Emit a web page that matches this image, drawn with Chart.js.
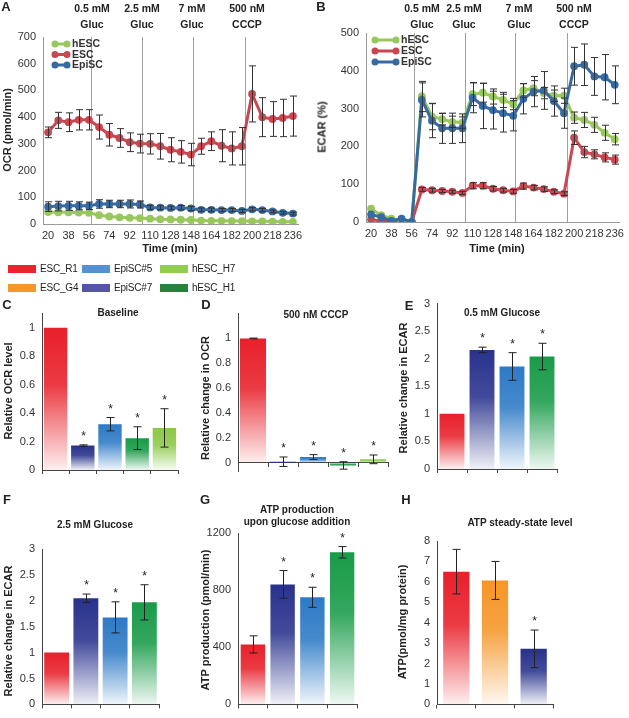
<!DOCTYPE html>
<html>
<head>
<meta charset="utf-8">
<script src="https://cdn.jsdelivr.net/npm/chart.js@4.4.1/dist/chart.umd.min.js"></script>
<style>
  body { margin: 0; background: #fff; width: 629px; height: 718px; position: relative; overflow: hidden;
         font-family: "Liberation Sans", Arial, sans-serif; color: #222; }
  canvas { position: absolute; }
  .t { position: absolute; transform: translate(-50%, -50%); white-space: nowrap; font-weight: bold;
       font-size: 10px; line-height: 1; }
  .L { font-size: 13px; }
  .inj { font-size: 10.5px; }
  .yt { font-size: 11px; transform: translate(-50%, -50%) rotate(-90deg); }
  .xt { font-size: 11px; }
  .sw { position: absolute; width: 28px; height: 8px; }
  .lt { position: absolute; transform: translateY(-50%); font-size: 10px; line-height: 1; white-space: nowrap;
        letter-spacing: -0.2px; font-family: "Liberation Sans Narrow", "Liberation Sans", Arial, sans-serif; }
</style>
</head>
<body>

<!-- panel letters -->
<div class="t L" style="left:6px;top:6px">A</div>
<div class="t L" style="left:321px;top:6px">B</div>
<div class="t L" style="left:7px;top:304px">C</div>
<div class="t L" style="left:206px;top:304px">D</div>
<div class="t L" style="left:409px;top:305px">E</div>
<div class="t L" style="left:7px;top:499px">F</div>
<div class="t L" style="left:205px;top:499px">G</div>
<div class="t L" style="left:406px;top:499px">H</div>

<!-- injection labels -->
<div class="t inj" style="left:92px;top:8px">0.5 mM</div><div class="t inj" style="left:92px;top:24px">Gluc</div>
<div class="t inj" style="left:142px;top:8px">2.5 mM</div><div class="t inj" style="left:142px;top:24px">Gluc</div>
<div class="t inj" style="left:192px;top:8px">7 mM</div><div class="t inj" style="left:192px;top:24px">Gluc</div>
<div class="t inj" style="left:247px;top:8px">500 nM</div><div class="t inj" style="left:247px;top:24px">CCCP</div>
<div class="t inj" style="left:422px;top:8px">0.5 mM</div><div class="t inj" style="left:422px;top:24px">Gluc</div>
<div class="t inj" style="left:464px;top:8px">2.5 mM</div><div class="t inj" style="left:464px;top:24px">Gluc</div>
<div class="t inj" style="left:519px;top:8px">7 mM</div><div class="t inj" style="left:519px;top:24px">Gluc</div>
<div class="t inj" style="left:574px;top:8px">500 nM</div><div class="t inj" style="left:574px;top:24px">CCCP</div>

<!-- axis titles -->
<div class="t yt" style="left:7px;top:130px">OCR (pmol/min)</div>
<div class="t yt" style="left:322px;top:127px">ECAR (%)</div>
<div class="t xt" style="left:170px;top:248px">Time (min)</div>
<div class="t xt" style="left:497px;top:248px">Time (min)</div>
<div class="t yt" style="left:8px;top:391px">Relative OCR level</div>
<div class="t yt" style="left:205px;top:398px">Relative change in OCR</div>
<div class="t yt" style="left:403px;top:388px">Relative change in ECAR</div>
<div class="t yt" style="left:8px;top:631px">Relative change in ECAR</div>
<div class="t yt" style="left:205px;top:620px">ATP production (pmol/min)</div>
<div class="t yt" style="left:402px;top:622px">ATP(pmol/mg protein)</div>

<!-- panel titles -->
<div class="t" style="left:118px;top:313px">Baseline</div>
<div class="t" style="left:316px;top:315px">500 nM CCCP</div>
<div class="t" style="left:502px;top:313px">0.5 mM Glucose</div>
<div class="t" style="left:95px;top:525px">2.5 mM Glucose</div>
<div class="t" style="left:297px;top:510px">ATP production</div>
<div class="t" style="left:297px;top:522px">upon glucose addition</div>
<div class="t" style="left:520px;top:523px">ATP steady-state level</div>

<!-- cell line legend -->
<div class="sw" style="left:8px;top:265px;background:rgb(235,35,45)"></div><div class="lt" style="left:40px;top:269px">ESC_R1</div>
<div class="sw" style="left:82px;top:265px;background:rgb(85,145,210)"></div><div class="lt" style="left:114px;top:269px">EpiSC#5</div>
<div class="sw" style="left:160px;top:265px;background:rgb(145,205,80)"></div><div class="lt" style="left:192px;top:269px">hESC_H7</div>
<div class="sw" style="left:8px;top:284px;background:rgb(245,150,40)"></div><div class="lt" style="left:40px;top:288px">ESC_G4</div>
<div class="sw" style="left:82px;top:284px;background:rgb(85,85,165)"></div><div class="lt" style="left:114px;top:288px">EpiSC#7</div>
<div class="sw" style="left:160px;top:284px;background:rgb(40,130,60)"></div><div class="lt" style="left:192px;top:288px">hESC_H1</div>

<script>
Chart.defaults.font.family = '"Liberation Sans", Arial, sans-serif';

// time axis (every other label shown)
const timeLabels = ['20','29','38','47','56','65','74','83','92','101','110','119','128',
                    '137','148','155','164','173','182','191','200','209','218','227','236'];
// injections fall between measurements (in point index units)
const injectAt = [4.2, 9.25, 14.2, 19.3];

// A - OCR
const ocrHesc = [45,44,44,43,42,33,28,25,23,22,20,18,17,16,15,13,12,12,11,11,10,10,9,8,8];
const ocrEsc = [343,388,381,390,390,363,334,322,306,301,300,291,278,270,260,291,310,293,283,291,487,400,393,397,404];
const ocrEscErr = [20,30,35,38,38,45,42,35,35,35,38,48,45,42,42,30,35,60,62,70,105,73,65,70,75];
const ocrEpi = [65,67,68,68,68,75,75,75,75,73,62,61,60,61,58,53,53,52,52,49,55,52,47,42,39];
const ocrEpiErr = [18,18,17,15,14,16,14,14,15,13,8,7,7,8,8,7,7,6,6,6,6,6,5,5,5];

// B - ECAR
const ecarHesc = [35,18,9,4,0,332,279,272,265,263,338,342,332,323,312,348,354,341,334,334,276,270,257,236,219];
const ecarHescErr = [0,0,0,0,0,40,35,15,15,15,30,25,20,20,15,18,20,15,15,20,15,20,20,20,15];
const ecarEsc = [7,2,2,2,0,86,84,82,80,77,96,96,88,84,81,95,91,87,80,75,223,185,179,171,165];
const ecarEscErr = [0,0,0,0,0,5,5,4,4,4,8,8,6,5,5,8,6,6,5,5,18,15,12,12,12];
const ecarEpi = [20,13,3,9,0,323,268,248,248,248,329,307,296,288,281,326,345,348,320,288,412,416,385,383,363];
const ecarEpiErr = [0,0,0,0,0,45,45,40,40,38,40,60,50,50,40,40,40,50,40,40,50,55,50,60,50];

// C - baseline OCR
const cCats = ['ESC_R1','EpiSC#7','EpiSC#5','hESC_H1','hESC_H7'];
const cVals = [1, 0.172, 0.322, 0.224, 0.296];
const cErr  = [0, 0.005, 0.047, 0.08, 0.135];
const cSig  = [false, true, true, true, true];
// D - CCCP
const dVals = [1, 0.008, 0.045, -0.022, 0.027];
const dErr  = [0.003, 0.038, 0.02, 0.03, 0.035];
const dSig  = [false, true, true, true, true];
const relTicks = [0, 0.2, 0.4, 0.6, 0.8, 1];
// E / F - glucose ECAR
const ecCats = ['ESC_R1','EpiSC#7','EpiSC#5','hESC_H1'];
const eVals = [1, 2.16, 1.86, 2.04];
const eErr  = [0, 0.05, 0.25, 0.24];
const fVals = [1, 2.05, 1.68, 1.97];
const fErr  = [0, 0.08, 0.3, 0.34];
const glucSig = [false, true, true, true];
const ecarTicks = [0, 0.5, 1, 1.5, 2, 2.5, 3];
// G - ATP production
const gVals = [420, 840, 750, 1065];
const gErr  = [60, 97, 70, 40];
const gTicks = [0, 400, 800, 1200];
// H - ATP steady state
const hCats = ['ESC_R1','ESC_G4','EpiSC#7'];
const hVals = [6.5, 6.07, 2.72];
const hErr  = [1.09, 0.93, 0.92];
const hSig  = [false, false, true];
const hTicks = [0,1,2,3,4,5,6,7,8];

const lineColors = { hESC: 'rgb(152,200,92)', ESC: 'rgb(200,72,82)', EpiSC: 'rgb(56,106,162)' };
const barColors = {
  'ESC_R1': '232,32,42', 'ESC_G4': '245,150,40', 'EpiSC#7': '40,50,140',
  'EpiSC#5': '45,122,198', 'hESC_H1': '25,155,72', 'hESC_H7': '140,200,70'
};

// fixed chart area inside each canvas
function frame(box, plot, xh) {
  return {
    padding: { left: 0, top: plot.t - box.y, right: box.x + box.w - plot.r, bottom: box.y + box.h - plot.b - xh },
    yw: plot.l - box.x, xh: xh
  };
}

function makeCanvas(box) {
  const c = document.createElement('canvas');
  c.width = box.w; c.height = box.h;
  c.style.left = box.x + 'px'; c.style.top = box.y + 'px';
  c.style.width = box.w + 'px'; c.style.height = box.h + 'px';
  document.body.insertBefore(c, document.body.firstChild);
  return c;
}

// error bars + significance stars
const errorBars = {
  id: 'errorBars',
  afterDatasetsDraw(chart, args, opts) {
    const ctx = chart.ctx, ys = chart.scales.y, cap = opts.cap || 4;
    chart.data.datasets.forEach((ds, i) => {
      if (!ds.err) return;
      chart.getDatasetMeta(i).data.forEach((el, j) => {
        const v = ds.data[j], e = ds.err[j];
        const y1 = ys.getPixelForValue(v + e), y2 = ys.getPixelForValue(v - e);
        const x = Math.round(el.x) + 0.5;
        ctx.save();
        ctx.strokeStyle = opts.color || '#222';
        ctx.lineWidth = 1;
        if (e) {
          ctx.beginPath();
          ctx.moveTo(x, y1); ctx.lineTo(x, y2);
          ctx.moveTo(x - cap, y1); ctx.lineTo(x + cap, y1);
          ctx.moveTo(x - cap, y2); ctx.lineTo(x + cap, y2);
          ctx.stroke();
        }
        if (ds.sig && ds.sig[j]) {
          ctx.fillStyle = '#222';
          ctx.font = '12px "Liberation Sans"';
          ctx.textAlign = 'center';
          ctx.fillText('*', x, Math.min(y1, ys.getPixelForValue(Math.max(v, 0))) - 5);
        }
        ctx.restore();
      });
    });
  }
};

// vertical lines marking injections
const injectionLines = {
  id: 'injectionLines',
  beforeDatasetsDraw(chart, args, opts) {
    const { ctx, chartArea: a, scales: { x } } = chart;
    const x0 = x.getPixelForValue(0), step = x.getPixelForValue(1) - x0;
    ctx.save();
    ctx.strokeStyle = '#a0a0a0';
    ctx.lineWidth = 1;
    opts.at.forEach(f => {
      const px = Math.round(x0 + f * step) + 0.5;
      ctx.beginPath(); ctx.moveTo(px, a.top); ctx.lineTo(px, a.bottom); ctx.stroke();
    });
    ctx.restore();
  }
};

// legend inside the plot
const lineLegend = {
  id: 'lineLegend',
  afterDraw(chart, args, o) {
    const ctx = chart.ctx;
    chart.data.datasets.forEach((ds, i) => {
      const y = o.y + i * o.dy;
      ctx.save();
      ctx.strokeStyle = ds.borderColor; ctx.fillStyle = ds.borderColor; ctx.lineWidth = 3;
      ctx.beginPath(); ctx.moveTo(o.x, y); ctx.lineTo(o.x + o.len, y); ctx.stroke();
      [o.x + 2, o.x + o.len - 2].forEach(px => { ctx.beginPath(); ctx.arc(px, y, 3.5, 0, Math.PI * 2); ctx.fill(); });
      ctx.fillStyle = '#333';
      ctx.font = 'bold 10.5px "Liberation Sans"';
      ctx.textBaseline = 'middle';
      ctx.fillText(ds.label, o.x + o.len + 3, y + 0.5);
      ctx.restore();
    });
  }
};

function lineSet(label, data, err, order) {
  return {
    label, data, err, order,
    borderColor: lineColors[label], backgroundColor: lineColors[label],
    borderWidth: 3, pointRadius: 3.9, pointBorderWidth: 0, tension: 0
  };
}

function linePanel(box, plot, sets, yMax, step, legend) {
  const f = frame(box, plot, 20);
  new Chart(makeCanvas(box), {
    type: 'line',
    data: { labels: timeLabels, datasets: sets },
    options: {
      responsive: false, animation: false, events: [],
      layout: { padding: f.padding },
      plugins: {
        legend: { display: false }, tooltip: { enabled: false },
        injectionLines: { at: injectAt },
        errorBars: { cap: 3.5, color: '#333' },
        lineLegend: legend
      },
      scales: {
        x: {
          type: 'category', offset: true,
          grid: { display: false, drawTicks: false }, border: { color: '#999' },
          ticks: {
            autoSkip: false, maxRotation: 0, padding: 5, color: '#333', font: { size: 11 },
            callback: function (v, i) { return i % 2 ? '' : this.getLabelForValue(v); }
          },
          afterFit: s => { s.height = f.xh; }
        },
        y: {
          min: 0, max: yMax,
          grid: { display: false, drawTicks: false }, border: { color: '#999' },
          ticks: { stepSize: step, padding: 7, color: '#333', font: { size: 11 } },
          afterFit: s => { s.width = f.yw; }
        }
      }
    },
    plugins: [injectionLines, errorBars, lineLegend]
  });
}

function fadeFill(cats) {
  return ctx => {
    const rgb = barColors[cats[ctx.dataIndex]];
    const ys = ctx.chart.scales.y;
    if (!ys || ctx.type !== 'data') return 'rgb(' + rgb + ')';
    const top = ys.getPixelForValue(ctx.parsed.y), base = ys.getPixelForValue(0);
    if (!isFinite(top) || !isFinite(base) || Math.abs(base - top) < 2) return 'rgb(' + rgb + ')';
    const g = ctx.chart.ctx.createLinearGradient(0, top, 0, base);
    g.addColorStop(0, 'rgba(' + rgb + ',1)');
    g.addColorStop(0.4, 'rgba(' + rgb + ',0.88)');
    g.addColorStop(1, 'rgba(' + rgb + ',0.07)');
    return g;
  };
}

function barPanel(p) {
  const f = frame(p.box, p.plot, p.zeroAxis ? 0 : 4);
  new Chart(makeCanvas(p.box), {
    type: 'bar',
    data: {
      labels: p.cats,
      datasets: [{
        data: p.vals, err: p.err, sig: p.sig,
        backgroundColor: fadeFill(p.cats), borderWidth: 0,
        barPercentage: p.barPct, categoryPercentage: 1
      }]
    },
    options: {
      responsive: false, animation: false, events: [],
      layout: { padding: f.padding },
      plugins: { legend: { display: false }, tooltip: { enabled: false }, errorBars: { cap: 4 } },
      scales: {
        x: {
          position: p.zeroAxis ? { y: 0 } : 'bottom',
          offset: true,
          ticks: { display: false },
          grid: { drawOnChartArea: false, tickLength: 4, color: '#444', offset: true },
          border: { color: '#444' },
          afterFit: s => { s.height = f.xh; }
        },
        y: {
          min: p.range[0], max: p.range[1],
          grid: { display: false, drawTicks: false }, border: { color: '#444' },
          afterBuildTicks: s => { s.ticks = p.ticks.map(v => ({ value: v })); },
          ticks: { padding: 7, color: '#333', font: { size: 11 }, callback: v => String(v) },
          afterFit: s => { s.width = f.yw; }
        }
      }
    },
    plugins: [errorBars]
  });
}

// A
linePanel({ x: 0, y: 0, w: 313, h: 262 }, { l: 43, t: 37, r: 298, b: 224 }, [
  lineSet('hESC', ocrHesc, null, 2),
  lineSet('ESC', ocrEsc, ocrEscErr, 0),
  lineSet('EpiSC', ocrEpi, ocrEpiErr, 1)
], 700, 100, { x: 53, y: 44, dy: 10.5, len: 16 });

// B
linePanel({ x: 313, y: 0, w: 316, h: 262 }, { l: 366, t: 33, r: 625, b: 222 }, [
  lineSet('hESC', ecarHesc, ecarHescErr, 1),
  lineSet('ESC', ecarEsc, ecarEscErr, 2),
  lineSet('EpiSC', ecarEpi, ecarEpiErr, 0)
], 500, 100, { x: 60, y: 40, dy: 11, len: 25 });

// C
barPanel({ box: { x: 0, y: 300, w: 200, h: 185 }, plot: { l: 42, t: 313, r: 178, b: 470 },
  cats: cCats, vals: cVals, err: cErr, sig: cSig, ticks: relTicks, range: [0, 1.1], barPct: 0.86 });
// D
barPanel({ box: { x: 200, y: 300, w: 205, h: 185 }, plot: { l: 238, t: 313, r: 388, b: 480 },
  cats: cCats, vals: dVals, err: dErr, sig: dSig, ticks: relTicks, range: [-0.07, 1.2], barPct: 0.87, zeroAxis: true });
// E
barPanel({ box: { x: 405, y: 290, w: 224, h: 195 }, plot: { l: 437, t: 299, r: 557, b: 469 },
  cats: ecCats, vals: eVals, err: eErr, sig: glucSig, ticks: ecarTicks, range: [0, 3], barPct: 0.83 });
// F
barPanel({ box: { x: 0, y: 490, w: 200, h: 228 }, plot: { l: 42, t: 549, r: 159, b: 709 },
  cats: ecCats, vals: fVals, err: fErr, sig: glucSig, ticks: ecarTicks, range: [0, 3], barPct: 0.85 });
// G
barPanel({ box: { x: 200, y: 490, w: 205, h: 228 }, plot: { l: 238, t: 533, r: 357, b: 710 },
  cats: ecCats, vals: gVals, err: gErr, sig: glucSig, ticks: gTicks, range: [0, 1200], barPct: 0.82 });
// H
barPanel({ box: { x: 405, y: 490, w: 224, h: 228 }, plot: { l: 437, t: 541, r: 553, b: 710 },
  cats: hCats, vals: hVals, err: hErr, sig: hSig, ticks: hTicks, range: [0, 8], barPct: 0.68 });
</script>
</body>
</html>
